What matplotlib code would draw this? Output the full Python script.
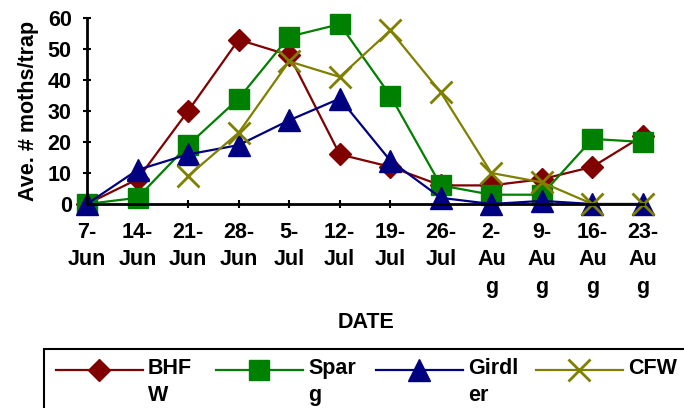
import numpy as np
import matplotlib.pyplot as plt
from matplotlib.lines import Line2D
from matplotlib.patches import Rectangle

plt.rcParams['font.family'] = ['Liberation Sans', 'DejaVu Sans']
plt.rcParams['font.weight'] = 'bold'

# tanggal pengamatan
dates = ['7-\nJun', '14-\nJun', '21-\nJun', '28-\nJun', '5-\nJul', '12-\nJul',
         '19-\nJul', '26-\nJul', '2-\nAu\ng', '9-\nAu\ng', '16-\nAu\ng', '23-\nAu\ng']

bhfw = [0, 8, 30, 53, 48, 16, 12, 6, 6, 8, 12, 22]
sparg = [0, 2, 19, 34, 54, 58, 35, 6, 3, 3, 21, 20]
girdler = [0, 11, 16, 19, 27, 34, 14, 2, 0, 1, 0, 0]
cfw = [np.nan, np.nan, 9, 23, 46, 41, 56, 36, 10, 7, 0, 0]

names = ['BHF\nW', 'Spar\ng', 'Girdl\ner', 'CFW']
colors = ['#800000', '#008000', '#000080', '#808000']
markers = ['D', 's', '^', 'x']
sizes = [11, 15, 16, 16]

W, H = 684, 408
fs = 15.5

def fx(px):
    return px / W

def fy(py):
    return 1 - py / H

x = np.arange(len(dates))

fig = plt.figure(figsize=(6.84, 4.08), dpi=100)
ax = fig.add_axes([fx(87), fy(204), (643 - 87) / W, (204 - 18) / H])

for ys, c, m, s in zip([bhfw, sparg, girdler, cfw], colors, markers, sizes):
    ax.plot(x, ys, color=c, lw=1.6, marker=m, ms=s, mew=2 if m == 'x' else 1,
            clip_on=False)

ax.set_xlim(0, 11)
ax.set_ylim(0, 60)
ax.set_yticks(range(0, 61, 10))
ax.set_xticks(x)
ax.set_xticklabels(dates, linespacing=1.4)
ax.tick_params(axis='both', direction='inout', length=6, width=1.5, labelsize=fs, pad=8)
ax.tick_params(axis='x', pad=10)
for s in ['top', 'right']:
    ax.spines[s].set_visible(False)
for s in ['left', 'bottom']:
    ax.spines[s].set_linewidth(2)

ax.set_ylabel('Ave. # moths/trap', fontsize=fs, fontweight='bold', labelpad=6)
fig.text(fx(366), fy(323), 'DATE', ha='center', va='center', fontsize=fs, fontweight='bold')

# legenda manual, kotaknya terpotong di tepi gambar
fig.patches.append(Rectangle((fx(44), -0.2), 1.0, 0.2 + fy(349), transform=fig.transFigure,
                             fill=False, ec='black', lw=1.5))
for i, (lab, c, m, s) in enumerate(zip(names, colors, markers, sizes)):
    x0 = 56 + 160 * i
    fig.add_artist(Line2D([fx(x0), fx(x0 + 87)], [fy(370), fy(370)], color=c, lw=1.6,
                          transform=fig.transFigure))
    fig.add_artist(Line2D([fx(x0 + 43)], [fy(370)], color=c, marker=m, ms=s,
                          mew=2 if m == 'x' else 1, transform=fig.transFigure))
    fig.text(fx(x0 + 92), fy(358), lab, ha='left', va='top', fontsize=fs,
             fontweight='bold', linespacing=1.35)

fig.savefig('out.png', dpi=100)
